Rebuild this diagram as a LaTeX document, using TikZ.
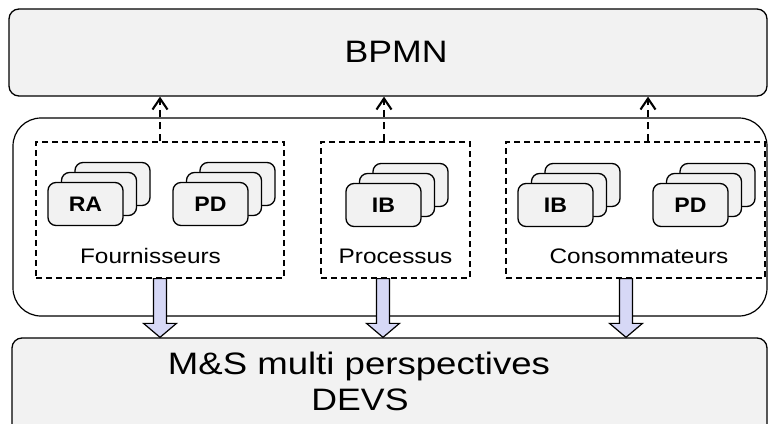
\documentclass[tikz,border=0pt]{standalone}
\usepackage{fontspec}
\setmainfont{Liberation Sans}
\usetikzlibrary{arrows.meta,calc}
\definecolor{boxgray}{RGB}{242,242,242}
\definecolor{lav}{RGB}{214,216,246}
\newcommand\hs[2][1.16]{\scalebox{#1}[1]{#2}}
\newcommand\cardstack[4]{%
  \node[card] (#1c) at (#2+27,#3-20) {};
  \node[card] (#1b) at (#2+13.5,#3-10) {};
  \node[card] (#1a) at (#2,#3) {\hs[1.1]{#4}};
}
\newcommand\blockarrow[2]{%
  \draw[blockarr] let \p1=(#1), \p2=(#2) in
    (\x1-6.5pt,\y1) -- (\x1-6.5pt,\y2+14pt) -- (\x1-16.5pt,\y2+14pt) --
    (\x1,\y2) -- (\x1+16.5pt,\y2+14pt) -- (\x1+6.5pt,\y2+14pt) --
    (\x1+6.5pt,\y1) -- cycle;
}
\begin{document}
\begin{tikzpicture}[x=1pt,y=-1pt,
  bigbox/.style={draw, line width=1.3pt, fill=boxgray, rounded corners=10pt, inner sep=0pt},
  container/.style={draw, line width=1.2pt, fill=white, rounded corners=28pt, inner sep=0pt},
  group/.style={draw, dash pattern=on 6pt off 4pt, line width=1.2pt, inner sep=0pt, minimum height=136pt},
  card/.style={draw, line width=1.3pt, fill=boxgray, rounded corners=8pt, minimum width=75pt,
    minimum height=43pt, inner sep=0pt, font=\fontsize{21}{21}\selectfont\bfseries},
  lbl/.style={font=\fontsize{21}{24}\selectfont, inner sep=0pt, anchor=base},
  big/.style={font=\fontsize{31}{36}\selectfont, inner sep=0pt, anchor=base},
  dconn/.style={dash pattern=on 7pt off 5pt, line width=2.1pt, -{Straight Barb[length=11pt,width=15pt,line width=2.1pt]}},
  blockarr/.style={draw, line width=1.2pt, fill=lav, line join=miter}
]
\useasboundingbox (0,0) rectangle (768,423);
\clip (0,0) rectangle (768,423);

% main boxes
\node[bigbox, minimum width=758pt, minimum height=87pt] (bpmn) at (388,52.5) {};
\node[big] (bpmnlbl) at (396,62) {\hs[1.15]{BPMN}};

\node[container, minimum width=754pt, minimum height=198pt] (cont) at (390,217) {};

\node[bigbox, minimum width=755pt, minimum height=122pt] (devs) at (389.5,399) {};
\node[big] (devs1) at (359,374) {\hs[1.18]{M\&S multi perspectives}};
\node[big] (devs2) at (360,410) {\hs[1.15]{DEVS}};

% groups
\node[group, minimum width=248pt] (fourn) at (160,210) {};
\node[group, minimum width=149pt] (proc) at (395.5,210) {};
\node[group, minimum width=259pt] (cons) at (635.5,210) {};

% card stacks
\cardstack{ra}{85.5}{204}{RA}
\cardstack{pdf}{210.5}{204}{PD}
\cardstack{ibp}{383.5}{205}{IB}
\cardstack{ibc}{555.5}{205}{IB}
\cardstack{pdc}{690.5}{205}{PD}

% group labels
\node[lbl] (fournlbl) at (150.5,263) {\hs{Fournisseurs}};
\node[lbl] (proclbl) at (395.5,263) {\hs{Processus}};
\node[lbl] (conslbl) at (639,263) {\hs{Consommateurs}};

% dashed connectors to BPMN
\coordinate (fn) at (fourn.north);
\coordinate (pn) at ([xshift=-11.5pt]proc.north);
\coordinate (cn) at ([xshift=12.5pt]cons.north);
\draw[dconn] (fn) -- (bpmn.south -| fn);
\draw[dconn] (pn) -- (bpmn.south -| pn);
\draw[dconn] (cn) -- (bpmn.south -| cn);

% block arrows to DEVS
\coordinate (fs) at (fourn.south);
\coordinate (ps) at ([xshift=-12.5pt]proc.south);
\coordinate (cs) at ([xshift=-9.5pt]cons.south);
\blockarrow{fs}{devs.north -| fs}
\blockarrow{ps}{devs.north -| ps}
\blockarrow{cs}{devs.north -| cs}
\end{tikzpicture}
\end{document}
